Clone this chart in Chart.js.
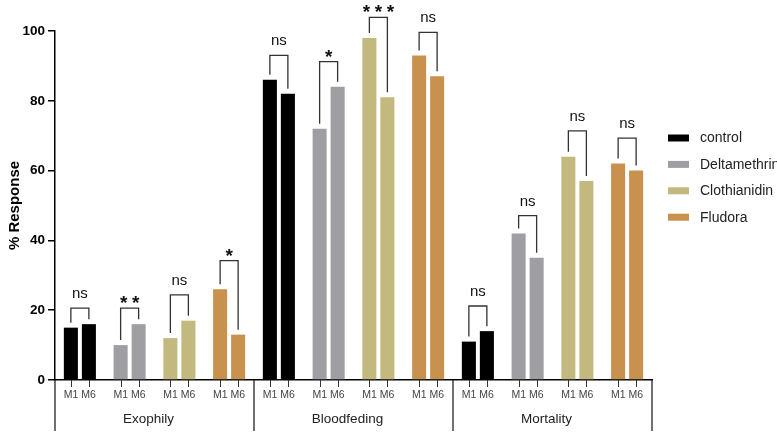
<!DOCTYPE html>
<html>
<head>
<meta charset="utf-8">
<script src="https://cdn.jsdelivr.net/npm/chart.js@4.4.0/dist/chart.umd.min.js"></script>
<style>
html,body{margin:0;padding:0;background:#fff;}
#wrap{width:777px;height:432px;position:relative;}
</style>
</head>
<body>
<div id="wrap"><canvas id="c"></canvas></div>
<script>
// ---- data ----
const groups = ['Exophily', 'Bloodfeding', 'Mortality'];
const treatments = ['control', 'Deltamethrin', 'Clothianidin', 'Fludora'];
const timepoints = ['M1', 'M6'];
const m1Values = [15, 10, 12, 26, 86, 72, 98, 93, 11, 42, 64, 62];
const m6Values = [16, 16, 17, 13, 82, 84, 81, 87, 14, 35, 57, 60];
const significance = ['ns', '**', 'ns', '*', 'ns', '*', '***', 'ns', 'ns', 'ns', 'ns', 'ns'];
const bracketTop = [20.6, 20.6, 24.4, 34.2, 93, 91.2, 103.9, 99.6, 21.2, 47.1, 71.4, 69.3];
const yTicks = [0, 20, 40, 60, 80, 100];

// ---- styles ----
const treatmentColors = ['#000000', '#9f9fa3', '#c3b87d', '#c8914d'];
const FONT = 'Arial, "Liberation Sans", Helvetica, sans-serif';

const pairLabels = [];
groups.forEach(g => treatments.forEach(t => pairLabels.push(g + ' / ' + t)));
const barColors = pairLabels.map((_, i) => treatmentColors[i % treatments.length]);

const annot = {
  id: 'annot',
  afterDatasetsDraw(chart) {
    const {ctx, chartArea, scales: {x, y}} = chart;
    const metas = [chart.getDatasetMeta(0), chart.getDatasetMeta(1)];
    ctx.save();
    // tick marks under each bar
    ctx.strokeStyle = '#333';
    ctx.lineWidth = 1;
    metas.forEach(m => m.data.forEach(b => {
      ctx.beginPath();
      ctx.moveTo(Math.round(b.x) + 0.5, chartArea.bottom);
      ctx.lineTo(Math.round(b.x) + 0.5, chartArea.bottom + 7);
      ctx.stroke();
    }));
    // group separators
    const half = (x.getPixelForValue(1) - x.getPixelForValue(0)) / 2;
    const bounds = [x.left];
    for (let g = 1; g < groups.length; g++) bounds.push(x.getPixelForValue(g * treatments.length) - half);
    bounds.push(x.right);
    ctx.strokeStyle = '#111';
    ctx.lineWidth = 1.2;
    bounds.forEach(bx => {
      ctx.beginPath();
      ctx.moveTo(bx, chartArea.bottom);
      ctx.lineTo(bx, chart.height - 1);
      ctx.stroke();
    });
    // significance brackets
    ctx.strokeStyle = '#333';
    ctx.lineWidth = 1.3;
    ctx.fillStyle = '#111';
    ctx.textAlign = 'center';
    ctx.textBaseline = 'alphabetic';
    significance.forEach((lab, i) => {
      const b1 = metas[0].data[i], b2 = metas[1].data[i];
      const yt = y.getPixelForValue(bracketTop[i]);
      ctx.beginPath();
      ctx.moveTo(b1.x, b1.y - 5);
      ctx.lineTo(b1.x, yt);
      ctx.lineTo(b2.x, yt);
      ctx.lineTo(b2.x, b2.y - 5);
      ctx.stroke();
      const cx = (b1.x + b2.x) / 2;
      if (lab === 'ns') {
        ctx.font = '15px ' + FONT;
        ctx.fillText('ns', cx, yt - 10);
      } else {
        ctx.font = 'bold 19px ' + FONT;
        const n = lab.length;
        for (let k = 0; k < n; k++) {
          ctx.fillText('*', cx + (k - (n - 1) / 2) * 12, yt + 1);
        }
      }
    });
    ctx.restore();
  },
  afterDraw(chart) {
    const {ctx} = chart;
    ctx.save();
    ctx.font = '14px ' + FONT;
    ctx.textAlign = 'left';
    ctx.textBaseline = 'middle';
    treatments.forEach((t, i) => {
      const cy = 138 + i * 26.4;
      ctx.fillStyle = treatmentColors[i];
      ctx.fillRect(668, cy - 3.5, 21, 7);
      ctx.fillStyle = '#222';
      ctx.fillText(t, 700, cy + 0.5);
    });
    ctx.restore();
  }
};

new Chart(document.getElementById('c'), {
  type: 'bar',
  data: {
    labels: pairLabels,
    datasets: [
      {label: timepoints[0], data: m1Values, backgroundColor: barColors, borderWidth: 0},
      {label: timepoints[1], data: m6Values, backgroundColor: barColors, borderWidth: 0}
    ]
  },
  options: {
    responsive: true,
    maintainAspectRatio: false,
    animation: false,
    categoryPercentage: 0.724,
    barPercentage: 0.78,
    layout: {padding: {top: 31, right: 125, left: 0, bottom: 0}},
    plugins: {legend: {display: false}, tooltip: {enabled: false}},
    scales: {
      x: {
        type: 'category',
        position: 'bottom',
        offset: true,
        weight: 0,
        grid: {display: false, drawTicks: false, tickLength: 0},
        border: {display: true, color: '#000', width: 1.5},
        ticks: {
          autoSkip: false, maxRotation: 0, padding: 9,
          color: '#444', font: {family: FONT, size: 10.5},
          callback: () => timepoints.join(' ')
        },
        afterFit: s => { s.height = 22; }
      },
      x2: {
        type: 'category',
        labels: groups,
        position: 'bottom',
        offset: true,
        weight: 1,
        grid: {display: false, drawTicks: false, tickLength: 0},
        border: {display: false},
        ticks: {
          autoSkip: false, maxRotation: 0, padding: 9, labelOffset: -6,
          color: '#222', font: {family: FONT, size: 13.5}
        },
        afterFit: s => { s.height = 30; }
      },
      y: {
        min: 0, max: 100,
        afterBuildTicks: s => { s.ticks = yTicks.map(v => ({value: v})); },
        grid: {display: true, drawOnChartArea: false, drawTicks: true, tickLength: 7, color: '#000', lineWidth: 1.5},
        border: {display: true, color: '#000', width: 1.5},
        ticks: {padding: 3, color: '#000', font: {family: FONT, size: 13.5, weight: 'bold'}},
        title: {display: true, text: '% Response', color: '#000', font: {family: FONT, size: 15, weight: 'bold'}, padding: {top: 6, bottom: 0}},
        afterFit: s => { s.width = 55; }
      }
    }
  },
  plugins: [annot]
});
</script>
</body>
</html>
